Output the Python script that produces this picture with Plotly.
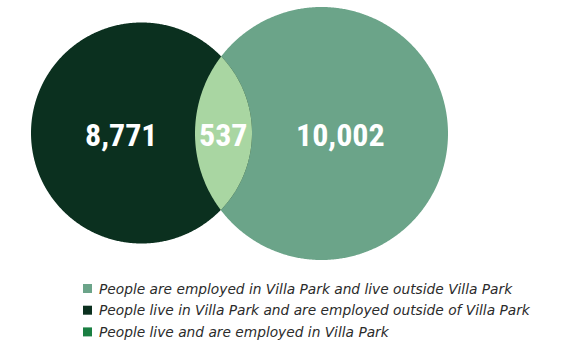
import numpy as np
import plotly.graph_objects as go

# ---- data ----
region_names = ["Live in Villa Park only", "Live and work in Villa Park", "Work in Villa Park only"]
region_values = [8771, 537, 10002]
legend_labels = [
    "People are employed in Villa Park and live outside Villa Park",
    "People live in Villa Park and are employed outside of Villa Park",
    "People live and are employed in Villa Park",
]

# ---- styles / layout ----
W, H = 563, 343
C_DARK = "#0b301f"
C_RIGHT = "#6ba489"
C_LENS = "#a9d6a2"
C_LEG3 = "#1a7f42"
legend_colors = [C_RIGHT, C_DARK, C_LEG3]

# circle geometry in pixel space
L_cx, L_cy, L_r = 141.5, 133.0, 110.5
R_cx, R_cy, R_r = 321.5, 133.5, 126.5

t = np.linspace(0, 2 * np.pi, 721)

def circ(cx, cy, r):
    return cx + r * np.cos(t), cy + r * np.sin(t)

lx, ly = circ(L_cx, L_cy, L_r)
rx, ry = circ(R_cx, R_cy, R_r)

# lens (intersection) polygon
d = R_cx - L_cx
a = (d**2 + L_r**2 - R_r**2) / (2 * d)
h = np.sqrt(L_r**2 - a**2)
ang_L = np.arctan2(h, a)
ang_R = np.arctan2(h, -(d - a))
tl = np.linspace(-ang_L, ang_L, 200)
tr = np.linspace(ang_R, 2 * np.pi - ang_R, 200)
lens_x = np.concatenate([L_cx + L_r * np.cos(tl), R_cx + R_r * np.cos(tr)])
lens_y = np.concatenate([L_cy + L_r * np.sin(tl), R_cy + R_r * np.sin(tr)])

fig = go.Figure()
fig.add_trace(go.Scatter(x=rx, y=ry, fill="toself", fillcolor=C_RIGHT, mode="none",
                         hoverinfo="skip", showlegend=False))
fig.add_trace(go.Scatter(x=lx, y=ly, fill="toself", fillcolor=C_DARK, mode="none",
                         hoverinfo="skip", showlegend=False))
fig.add_trace(go.Scatter(x=lens_x, y=lens_y, fill="toself", fillcolor=C_LENS, mode="none",
                         hoverinfo="skip", showlegend=False))

# value labels
label_x = [121.0, 223.0, 340.0]
label_y = 135.0
num_font = dict(family="Roboto Condensed, Liberation Sans, Roboto, sans-serif",
                size=32, color="white", weight="bold")
for name, v, x in zip(region_names, region_values, label_x):
    fig.add_annotation(x=x, y=label_y, text=f"{v:,}", showarrow=False,
                       xanchor="center", yanchor="middle", font=num_font)

# manual legend
leg_x = 87.5
leg_y0 = 288.5
leg_gap = 21.7
leg_ys = [leg_y0 + i * leg_gap for i in range(len(legend_labels))]
fig.add_trace(go.Scatter(x=[leg_x] * len(legend_labels), y=leg_ys, mode="markers",
                         marker=dict(symbol="square", size=9, color=legend_colors, line=dict(width=0)),
                         hoverinfo="skip", showlegend=False))
for lab, y in zip(legend_labels, leg_ys):
    fig.add_annotation(x=leg_x + 9.5, y=y, text=lab, showarrow=False,
                       xanchor="left", yanchor="middle",
                       font=dict(family="DejaVu Sans, sans-serif", size=13.75, color="#2b2b2b",
                                 style="italic"))

fig.update_layout(
    width=W, height=H,
    margin=dict(l=0, r=0, t=0, b=0),
    paper_bgcolor="white", plot_bgcolor="white",
    xaxis=dict(range=[0, W], visible=False, fixedrange=True),
    yaxis=dict(range=[H, 0], visible=False, fixedrange=True),
    showlegend=False,
)

fig.write_html("out.html")
